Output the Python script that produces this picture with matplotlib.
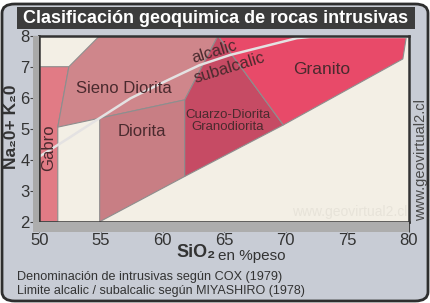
import matplotlib
matplotlib.use("Agg")
import matplotlib.pyplot as plt
from matplotlib.patches import Polygon, Rectangle, FancyBboxPatch

plt.rcParams['font.family'] = ['Liberation Sans', 'DejaVu Sans']

W, H = 430, 303

# region outlines (SiO2, Na2O+K2O)
gabro_x = [50, 51.5, 51.5, 52.4, 50]
gabro_y = [2, 2, 5.05, 7.0, 7.0]
sieno_x = [51.5, 52.4, 54.9, 64.5, 61.8, 54.9]
sieno_y = [5.05, 7.0, 8.0, 8.0, 5.93, 5.34]
diorita_x = [54.9, 54.9, 61.8, 61.8]
diorita_y = [2.0, 5.34, 5.93, 3.46]
cuarzo_x = [61.8, 61.8, 64.5, 69.8]
cuarzo_y = [3.46, 5.93, 8.0, 5.12]
granito_x = [64.5, 79.8, 79.5, 69.8]
granito_y = [8.0, 8.0, 7.25, 5.12]

# alcalic / subalcalic limit (Miyashiro)
limit_x = [50, 52.2, 54.65, 57.4, 60.6, 63.0, 65.5, 68.2, 70.9, 72.0, 80]
limit_y = [4.1, 4.65, 5.28, 5.98, 6.6, 7.05, 7.38, 7.65, 7.92, 7.96, 7.96]

xticks = [50, 55, 60, 65, 70, 75, 80]
yticks = [2, 3, 4, 5, 6, 7, 8]


def fx(px):
    return px / W


def fy(py):
    return 1 - py / H


fig = plt.figure(figsize=(4.3, 3.03), dpi=100)
fig.patch.set_facecolor('white')

# outer rounded panel
fig.add_artist(FancyBboxPatch((fx(2), fy(301)), fx(426), 297 / H,
                              boxstyle="round,pad=0,rounding_size=0.03",
                              transform=fig.transFigure, facecolor='#c8ccd5',
                              edgecolor='#2e2e2e', linewidth=2, zorder=0))

# title bar
fig.add_artist(Rectangle((fx(17), fy(29)), fx(398), 22 / H, transform=fig.transFigure,
                         facecolor='#3c3c3c', edgecolor='none', zorder=1))
fig.text(fx(216), fy(18.5), 'Clasificación geoquimica de rocas intrusivas',
         color='white', fontsize=13, fontweight='bold', ha='center', va='center')

# gray axis bands
fig.add_artist(Rectangle((fx(33), fy(232)), fx(6), (232 - 36) / H, transform=fig.transFigure,
                         facecolor='#a9a9a9', edgecolor='none', zorder=1))
fig.add_artist(Rectangle((fx(33), fy(232)), fx(376), 10 / H, transform=fig.transFigure,
                         facecolor='#adadad', edgecolor='none', zorder=1))

ax = fig.add_axes([fx(39.3), fy(221.7), (409 - 39.3) / W, (221.7 - 35.7) / H])
ax.set_facecolor('#f3efe5')
ax.set_xlim(50, 80)
ax.set_ylim(2, 8)

edge = '#8e8e8e'
for xs, ys, col in [(gabro_x, gabro_y, '#e17b85'),
                    (sieno_x, sieno_y, '#cf868b'),
                    (diorita_x, diorita_y, '#c87e84'),
                    (cuarzo_x, cuarzo_y, '#c64b64'),
                    (granito_x, granito_y, '#e84a69')]:
    ax.add_patch(Polygon(list(zip(xs, ys)), closed=True, facecolor=col,
                         edgecolor=edge, linewidth=0.8, zorder=2))

ax.plot(limit_x, limit_y, color='#e4e2e2', linewidth=1.8, zorder=3)

txt = '#4a2a2e'
ax.text(56.9, 6.3, 'Sieno Diorita', fontsize=12, color=txt, ha='center', va='center', zorder=4)
ax.text(58.3, 4.9, 'Diorita', fontsize=12, color=txt, ha='center', va='center', zorder=4)
ax.text(50.75, 4.4, 'Gabro', fontsize=12, color=txt, ha='center', va='center',
        rotation=90, zorder=4)
ax.text(65.3, 5.25, 'Cuarzo-Diorita\nGranodiorita', fontsize=9.5, color=txt,
        ha='center', va='center', linespacing=0.95, zorder=4)
ax.text(72.9, 6.9, 'Granito', fontsize=12.5, color=txt, ha='center', va='center', zorder=4)
ax.text(64.2, 7.47, 'alcalic', fontsize=12, color=txt, ha='center', va='center',
        rotation=17, zorder=4)
ax.text(65.4, 6.97, 'subalcalic', fontsize=12, color=txt, ha='center', va='center',
        rotation=17, zorder=4)
ax.text(75.2, 2.32, 'www.geovirtual2.cl', fontsize=10, color='#e7e3d9',
        ha='center', va='center', zorder=1.5)

for s in ax.spines.values():
    s.set_color('#333333')
    s.set_linewidth(1.8)
    s.set_zorder(5)

ax.set_xticks(xticks)
ax.set_yticks(yticks)
ax.set_xticklabels([str(v) for v in xticks])
ax.set_yticklabels([str(v) for v in yticks])
ax.tick_params(axis='x', direction='out', length=7.5, width=0.8, color='#444444',
               labelsize=12, labelcolor='#333333', pad=0.5)
ax.tick_params(axis='y', direction='out', length=6.5, width=0.8, color='#444444',
               labelsize=12, labelcolor='#333333', pad=0.5)

# axis titles
fig.text(fx(11.5), fy(127), 'Na₂0+ K₂0', rotation=90, fontsize=12.5, fontweight='bold',
         color='#333333', ha='center', va='center')
fig.text(fx(196), fy(252), 'SiO₂', fontsize=13, fontweight='bold', color='#333333',
         ha='center', va='center')
fig.text(fx(252), fy(256), 'en %peso', fontsize=11, color='#333333',
         ha='center', va='center')

# right watermark
fig.text(fx(421), fy(160), 'www.geovirtual2.cl', rotation=90, fontsize=10.5,
         color='#4a4a4a', ha='center', va='center')

# notes
fig.text(fx(17), fy(277), 'Denominación de intrusivas según COX (1979)', fontsize=9.05,
         color='#333333', ha='left', va='center')
fig.text(fx(17), fy(291), 'Limite alcalic / subalcalic según MIYASHIRO (1978)', fontsize=9.0,
         color='#333333', ha='left', va='center')

fig.savefig('out.png', dpi=100)
